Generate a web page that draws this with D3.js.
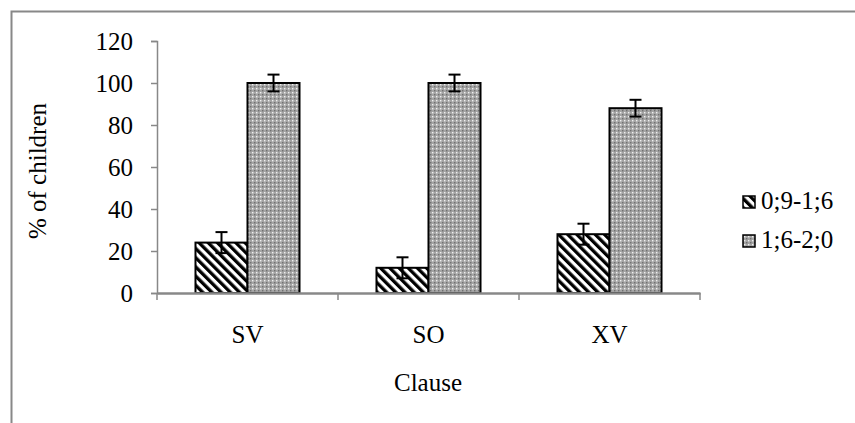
<!DOCTYPE html>
<html><head><meta charset="utf-8">
<script src="https://cdn.jsdelivr.net/npm/d3@7"></script>
<style>body{margin:0;background:#fff}svg{display:block}</style>
</head><body>
<script>
const categories = ["SV","SO","XV"];
const seriesNames = ["0;9-1;6","1;6-2;0"];
const valuesYoung = [24,12,28];
const valuesOld = [100,100,88];
const errYoung = [5,5,5];
const errOld = [4,4,4];
const yTicks = [0,20,40,60,80,100,120];

const W=855,H=423;
const svg=d3.select("body").append("svg").attr("width",W).attr("height",H);
const defs=svg.append("defs");
const hatch=defs.append("pattern").attr("id","hatch").attr("patternUnits","userSpaceOnUse")
 .attr("width",6.5).attr("height",6.5).attr("patternTransform","rotate(-45)");
hatch.append("rect").attr("width",6.5).attr("height",6.5).attr("fill","#fff");
hatch.append("rect").attr("width",3.3).attr("height",6.5).attr("fill","#000");
const dots=defs.append("pattern").attr("id","dots").attr("patternUnits","userSpaceOnUse")
 .attr("width",4).attr("height",4);
dots.append("rect").attr("width",4).attr("height",4).attr("fill","#a4a4a4");
dots.append("rect").attr("x",0).attr("y",0).attr("width",1.4).attr("height",1.4).attr("fill","#f0f0f0");
dots.append("rect").attr("x",2).attr("y",2).attr("width",1.4).attr("height",1.4).attr("fill","#707070");

// frame
svg.append("path").attr("d","M11.5,"+H+" V11.5 H"+W).attr("fill","none").attr("stroke","#888").attr("stroke-width",2);

const x0=d3.scaleBand().domain(categories).range([157,700]).paddingInner(0).paddingOuter(0);
const x1=d3.scaleBand().domain(seriesNames).range([0,x0.bandwidth()]).paddingInner(0).paddingOuter(0.74);
const y=d3.scaleLinear().domain([0,120]).range([293,41]);

const fills=["url(#hatch)","url(#dots)"];
const vals=[valuesYoung,valuesOld], errs=[errYoung,errOld];

const FONT='"Liberation Serif"';

// axes
const yAx=svg.append("g").attr("transform","translate(157,0)")
 .call(d3.axisLeft(y).tickValues(yTicks).tickSize(6).tickPadding(18));
yAx.attr("font-family",null).attr("font-size",null);
yAx.select(".domain").attr("stroke","#888").attr("stroke-width",1.5);
yAx.selectAll(".tick line").attr("stroke","#888").attr("stroke-width",1.5);
yAx.selectAll("text").attr("dy","0.34em");

categories.forEach((c,i)=>{
  seriesNames.forEach((s,j)=>{
    const v=vals[j][i], e=errs[j][i];
    const bx=x0(c)+x1(s), bw=x1.bandwidth();
    svg.append("rect").attr("x",bx).attr("y",y(v)).attr("width",bw).attr("height",y(0)-y(v))
      .attr("fill",fills[j]).attr("stroke","#000").attr("stroke-width",2);
    const cx=bx+bw/2;
    svg.append("line").attr("x1",cx).attr("x2",cx).attr("y1",y(v+e)).attr("y2",y(v-e)).attr("stroke","#000").attr("stroke-width",2);
    [v+e,v-e].forEach(t=>svg.append("line").attr("x1",cx-6).attr("x2",cx+6).attr("y1",y(t)).attr("y2",y(t)).attr("stroke","#000").attr("stroke-width",2));
  });
});

const xAx=svg.append("g").attr("transform","translate(0,293)")
 .call(d3.axisBottom(x0).tickSize(0).tickPadding(0));
xAx.attr("font-family",null).attr("font-size",null);
xAx.select(".domain").attr("stroke","#888").attr("stroke-width",2.5);
xAx.selectAll("text").attr("dy",null).attr("y",50);
const bounds=[157].concat(categories.map(c=>x0(c)+x0.bandwidth()));
svg.selectAll(".xb").data(bounds).enter().append("line")
 .attr("x1",d=>d).attr("x2",d=>d).attr("y1",293).attr("y2",300).attr("stroke","#888").attr("stroke-width",1.5);

svg.append("text").attr("x",428).attr("y",391).attr("text-anchor","middle").text("Clause");
svg.append("text").attr("transform","translate(46,171) rotate(-90)").attr("text-anchor","middle").text("% of children");

// legend
seriesNames.forEach((s,j)=>{
  const ly=209+j*39;
  svg.append("rect").attr("x",743).attr("y",ly-13).attr("width",12).attr("height",12)
   .attr("fill",fills[j]).attr("stroke","#000").attr("stroke-width",1.5);
  svg.append("text").attr("x",761).attr("y",ly).text(s);
});

svg.selectAll("text").style("font-family",FONT).style("font-size","25px").style("fill","#000");
</script>
</body></html>
